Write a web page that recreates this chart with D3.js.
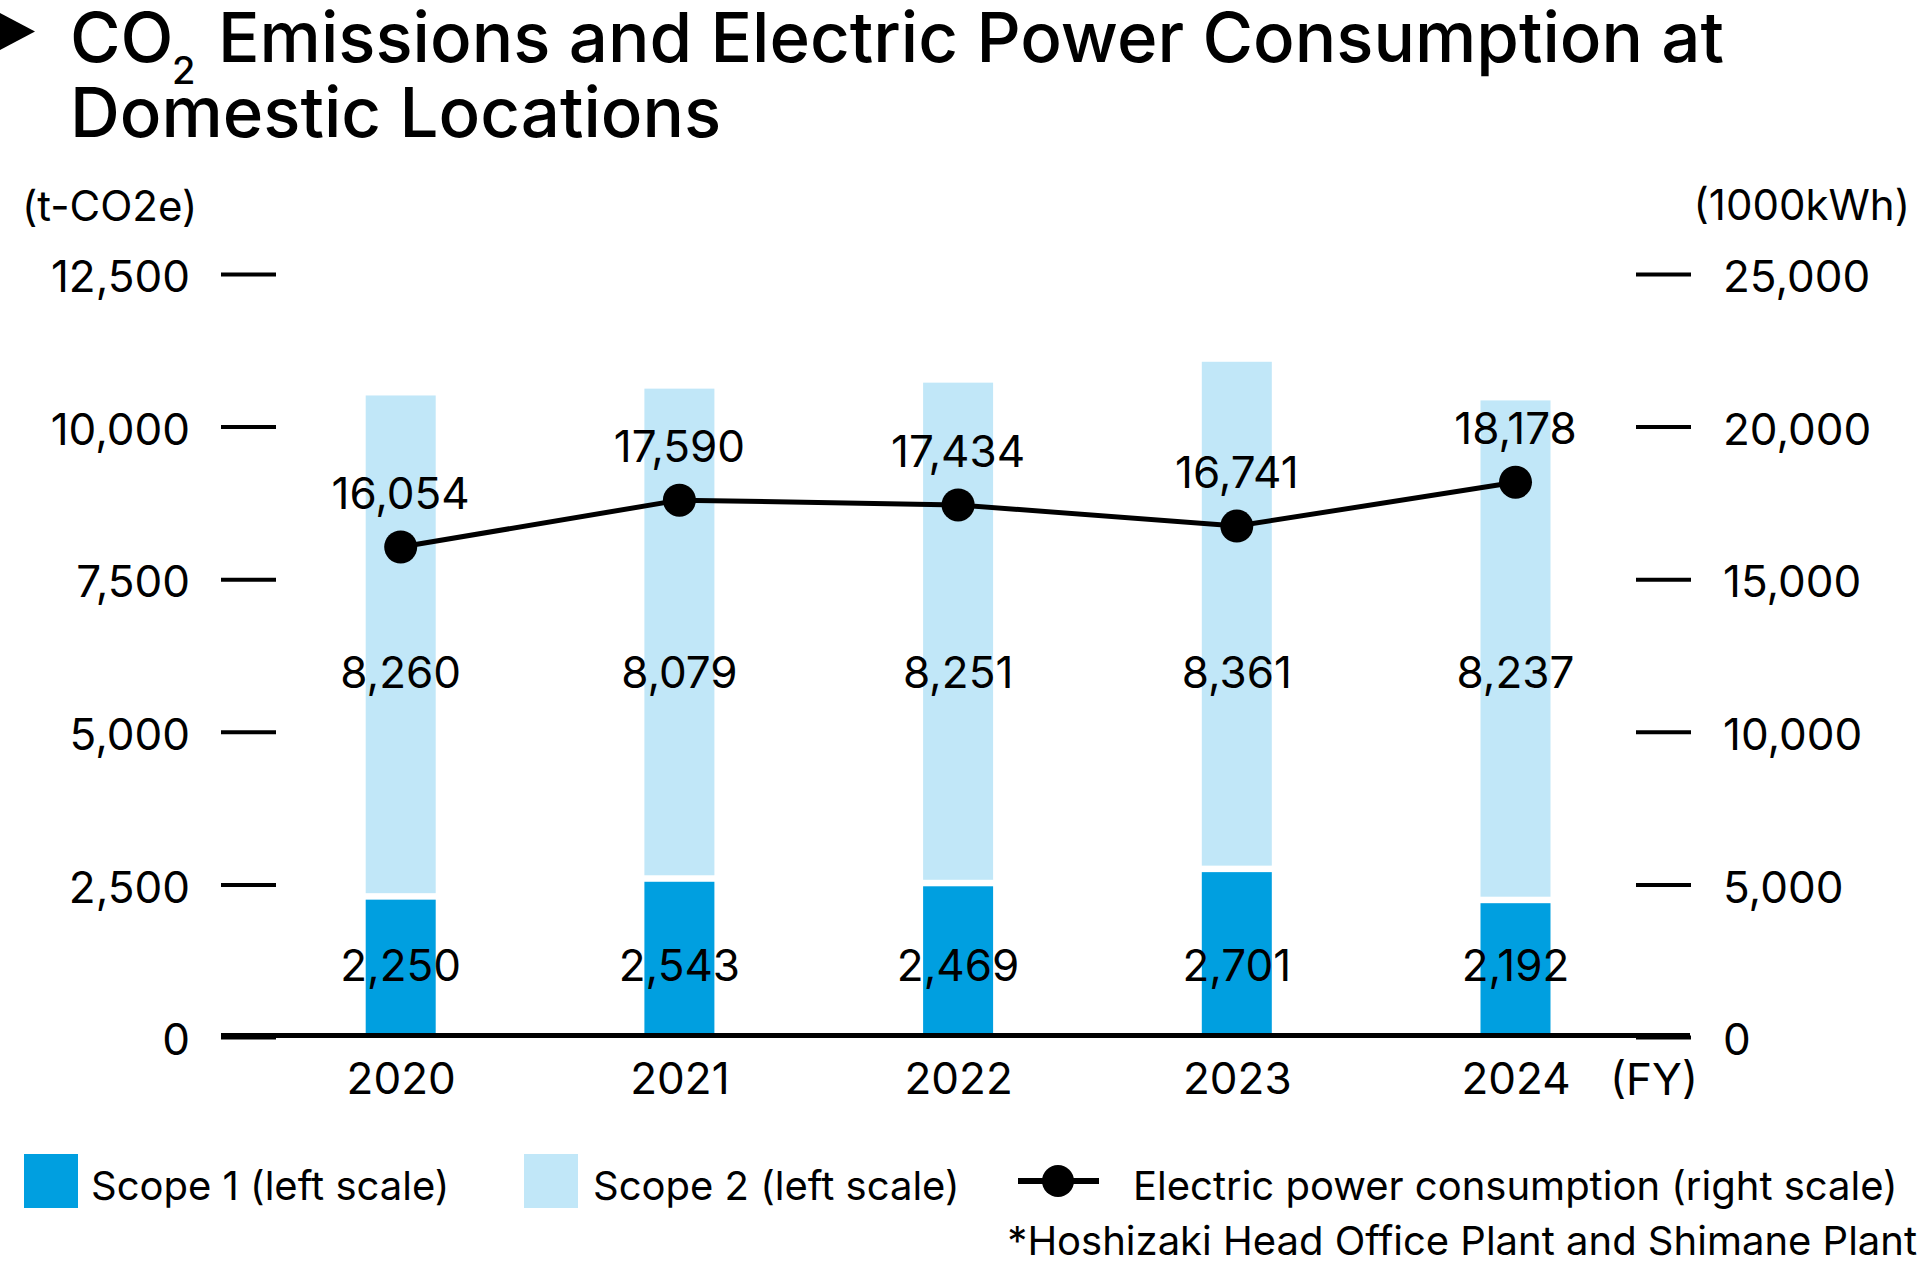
<!DOCTYPE html>
<html>
<head>
<meta charset="utf-8">
<script src="https://cdn.jsdelivr.net/npm/d3@7"></script>
<style>
  html, body { margin: 0; padding: 0; background: #fff; }
  svg { display: block; }
  text { font-family: Inter, "Noto Sans", sans-serif; fill: #000; }
</style>
</head>
<body>
<svg id="chart" width="1920" height="1269"></svg>
<script>
// ---- data ----
const years = ["2020", "2021", "2022", "2023", "2024"];
const scope1 = [2250, 2543, 2469, 2701, 2192];
const scope2 = [8260, 8079, 8251, 8361, 8237];
const power = [16054, 17590, 17434, 16741, 18178];
const leftTicks = [0, 2500, 5000, 7500, 10000, 12500];
const rightTicks = [0, 5000, 10000, 15000, 20000, 25000];

const C1 = "#009fe0", C2 = "#c1e7f8";
const svg = d3.select("#chart");
const fmt = d3.format(",");

const x = d3.scalePoint().domain(years).range([400.7, 1515.5]);
const yL = d3.scaleLinear().domain([0, 12500]).range([1037, 274]);
const yR = d3.scaleLinear().domain([0, 25000]).range([1037, 274]);
const barW = 70, gap = 6.5;

// ---- title ----
svg.append("path").attr("d", "M0,13 L35,31.5 L0,50 Z").attr("fill", "#000");
svg.append("text").attr("x", 70).attr("y", 62).attr("font-size", 69).attr("font-weight", 500).text("CO");
svg.append("text").attr("x", 172).attr("y", 84).attr("font-size", 38).attr("font-weight", 500).text("2");
svg.append("text").attr("x", 218).attr("y", 62).attr("font-size", 69).attr("font-weight", 500)
  .text("Emissions and Electric Power Consumption at");
svg.append("text").attr("x", 70).attr("y", 137).attr("font-size", 69).attr("font-weight", 500).text("Domestic Locations");

// ---- unit labels ----
svg.append("text").attr("x", 22).attr("y", 221).attr("font-size", 42).text("(t-CO2e)");
svg.append("text").attr("x", 1910).attr("y", 220).attr("font-size", 42).attr("text-anchor", "end").text("(1000kWh)");

// ---- axes ----
const gl = svg.append("g").attr("transform", "translate(276,0)")
  .call(d3.axisLeft(yL).tickValues(leftTicks).tickSize(55).tickPadding(31).tickFormat(fmt));
const gr = svg.append("g").attr("transform", "translate(1636,0)")
  .call(d3.axisRight(yR).tickValues(rightTicks).tickSize(55).tickPadding(32).tickFormat(fmt));
[gl, gr].forEach(g => {
  g.select(".domain").remove();
  g.selectAll(".tick line").attr("stroke", "#000").attr("stroke-width", 4);
  g.selectAll(".tick text").attr("font-size", 44).attr("font-family", "Inter, sans-serif").attr("fill", "#000").attr("dy", "0.4em");
});
const gb = svg.append("g").attr("transform", "translate(0,1037)")
  .call(d3.axisBottom(x).tickSize(0).tickPadding(26));
gb.select(".domain").remove();
gb.selectAll(".tick text").attr("font-size", 44).attr("font-family", "Inter, sans-serif").attr("fill", "#000");
svg.append("text").attr("x", 1610).attr("y", 1095).attr("font-size", 44).text("(FY)");

// ---- bars ----
const rows = years.map((y, i) => ({ year: y, s1: scope1[i], s2: scope2[i], p: power[i] }));
svg.append("g").selectAll("rect.s2").data(rows).join("rect")
  .attr("x", d => x(d.year) - barW / 2).attr("width", barW)
  .attr("y", d => yL(d.s1 + d.s2)).attr("height", d => yL(d.s1) - yL(d.s1 + d.s2) - gap)
  .attr("fill", C2);
svg.append("g").selectAll("rect.s1").data(rows).join("rect")
  .attr("x", d => x(d.year) - barW / 2).attr("width", barW)
  .attr("y", d => yL(d.s1)).attr("height", d => yL(0) - yL(d.s1))
  .attr("fill", C1);

// baseline
svg.append("line").attr("x1", 221).attr("x2", 1690).attr("y1", 1035.5).attr("y2", 1035.5)
  .attr("stroke", "#000").attr("stroke-width", 5);

// bar labels
svg.append("g").selectAll("text").data(rows).join("text")
  .attr("x", d => x(d.year)).attr("y", 688).attr("text-anchor", "middle").attr("font-size", 44)
  .text(d => fmt(d.s2));
svg.append("g").selectAll("text").data(rows).join("text")
  .attr("x", d => x(d.year)).attr("y", 981).attr("text-anchor", "middle").attr("font-size", 44)
  .text(d => fmt(d.s1));

// ---- line ----
const line = d3.line().x(d => x(d.year)).y(d => yR(d.p));
svg.append("path").datum(rows).attr("d", line).attr("fill", "none").attr("stroke", "#000").attr("stroke-width", 5);
svg.append("g").selectAll("circle").data(rows).join("circle")
  .attr("cx", d => x(d.year)).attr("cy", d => yR(d.p)).attr("r", 16.5).attr("fill", "#000");
svg.append("g").selectAll("text").data(rows).join("text")
  .attr("x", d => x(d.year)).attr("y", d => yR(d.p) - 38).attr("text-anchor", "middle").attr("font-size", 44)
  .text(d => fmt(d.p));

// ---- legend ----
svg.append("rect").attr("x", 24).attr("y", 1154).attr("width", 54).attr("height", 54).attr("fill", C1);
svg.append("text").attr("x", 91).attr("y", 1200).attr("font-size", 40).text("Scope 1 (left scale)");
svg.append("rect").attr("x", 524).attr("y", 1154).attr("width", 54).attr("height", 54).attr("fill", C2);
svg.append("text").attr("x", 593).attr("y", 1200).attr("font-size", 40).text("Scope 2 (left scale)");
svg.append("line").attr("x1", 1018).attr("x2", 1099).attr("y1", 1181).attr("y2", 1181).attr("stroke", "#000").attr("stroke-width", 6);
svg.append("circle").attr("cx", 1058).attr("cy", 1181).attr("r", 16).attr("fill", "#000");
svg.append("text").attr("x", 1133).attr("y", 1200).attr("font-size", 40).text("Electric power consumption (right scale)");
svg.append("text").attr("x", 1917).attr("y", 1255).attr("font-size", 40).attr("text-anchor", "end").text("*Hoshizaki Head Office Plant and Shimane Plant");
</script>
</body>
</html>
